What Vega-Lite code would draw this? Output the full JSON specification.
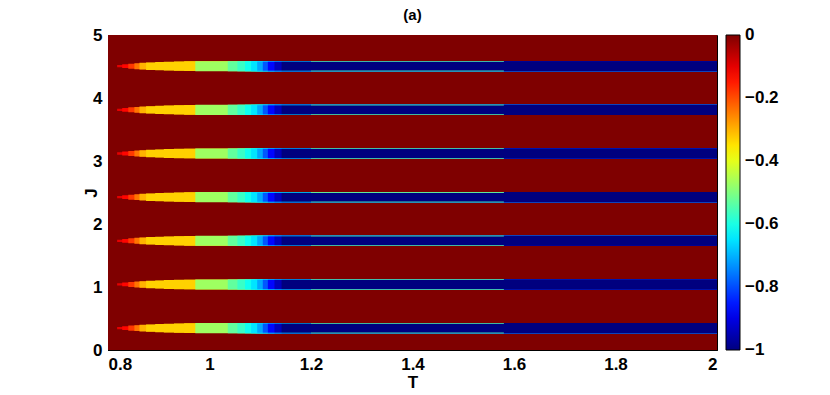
{
  "$schema": "https://vega.github.io/schema/vega-lite/v6.json",
  "autosize": {"type": "none"},
  "padding": {"left": 108, "top": 35, "right": 113, "bottom": 45},
  "width": 609,
  "height": 315,
  "background": "white",
  "title": {"text": "(a)", "fontSize": 15, "fontWeight": "bold", "font": "Liberation Sans", "offset": 14, "dy": 11, "frame": "group", "color": "black"},
  "config": {
    "view": {"stroke": "black", "strokeWidth": 1},
    "axis": {"labelFont": "Liberation Sans", "labelFontWeight": "bold", "labelFontSize": 17, "labelColor": "black", "titleFont": "Liberation Sans", "titleFontWeight": "bold", "titleFontSize": 17, "titleColor": "black", "domainColor": "black", "tickColor": "black", "grid": false, "zindex": 1},
    "legend": {"labelFont": "Liberation Sans", "labelFontWeight": "bold", "labelFontSize": 17, "labelColor": "black"}
  },
  "data": {"values": [
    {"t0": 0.8, "t1": 2.0, "j0": 0, "j1": 5, "v": 0},

    {"t0": 0.818, "t1": 2.0, "j0": 0.329, "j1": 0.365, "v": -0.10},
    {"t0": 0.828, "t1": 2.0, "j0": 0.317, "j1": 0.377, "v": -0.13},
    {"t0": 0.840, "t1": 2.0, "j0": 0.307, "j1": 0.387, "v": -0.18},
    {"t0": 0.852, "t1": 2.0, "j0": 0.300, "j1": 0.394, "v": -0.24},
    {"t0": 0.862, "t1": 2.0, "j0": 0.294, "j1": 0.400, "v": -0.30},
    {"t0": 0.875, "t1": 2.0, "j0": 0.288, "j1": 0.406, "v": -0.33},
    {"t0": 0.893, "t1": 2.0, "j0": 0.282, "j1": 0.412, "v": -0.33},
    {"t0": 0.910, "t1": 2.0, "j0": 0.277, "j1": 0.417, "v": -0.33},
    {"t0": 0.930, "t1": 2.0, "j0": 0.273, "j1": 0.421, "v": -0.33},
    {"t0": 0.950, "t1": 2.0, "j0": 0.270, "j1": 0.424, "v": -0.33},
    {"t0": 0.972, "t1": 2.0, "j0": 0.267, "j1": 0.427, "v": -0.47},
    {"t0": 1.036, "t1": 2.0, "j0": 0.267, "j1": 0.427, "v": -0.53},
    {"t0": 1.055, "t1": 2.0, "j0": 0.267, "j1": 0.427, "v": -0.57},
    {"t0": 1.070, "t1": 2.0, "j0": 0.267, "j1": 0.427, "v": -0.61},
    {"t0": 1.082, "t1": 2.0, "j0": 0.267, "j1": 0.427, "v": -0.65},
    {"t0": 1.094, "t1": 2.0, "j0": 0.267, "j1": 0.427, "v": -0.71},
    {"t0": 1.105, "t1": 2.0, "j0": 0.267, "j1": 0.427, "v": -0.79},
    {"t0": 1.115, "t1": 2.0, "j0": 0.267, "j1": 0.427, "v": -0.87},
    {"t0": 1.128, "t1": 2.0, "j0": 0.267, "j1": 0.427, "v": -0.94},
    {"t0": 1.142, "t1": 2.0, "j0": 0.267, "j1": 0.427, "v": -1.0},
    {"t0": 1.090, "t1": 1.580, "j0": 0.419, "j1": 0.427, "v": -0.65},
    {"t0": 1.200, "t1": 1.580, "j0": 0.419, "j1": 0.427, "v": -0.5},
    {"t0": 1.090, "t1": 1.580, "j0": 0.267, "j1": 0.275, "v": -0.65},
    {"t0": 1.200, "t1": 1.580, "j0": 0.267, "j1": 0.275, "v": -0.5},

    {"t0": 0.818, "t1": 2.0, "j0": 1.022, "j1": 1.058, "v": -0.10},
    {"t0": 0.828, "t1": 2.0, "j0": 1.010, "j1": 1.070, "v": -0.13},
    {"t0": 0.840, "t1": 2.0, "j0": 1.000, "j1": 1.080, "v": -0.18},
    {"t0": 0.852, "t1": 2.0, "j0": 0.993, "j1": 1.087, "v": -0.24},
    {"t0": 0.862, "t1": 2.0, "j0": 0.987, "j1": 1.093, "v": -0.30},
    {"t0": 0.875, "t1": 2.0, "j0": 0.981, "j1": 1.099, "v": -0.33},
    {"t0": 0.893, "t1": 2.0, "j0": 0.975, "j1": 1.105, "v": -0.33},
    {"t0": 0.910, "t1": 2.0, "j0": 0.970, "j1": 1.110, "v": -0.33},
    {"t0": 0.930, "t1": 2.0, "j0": 0.966, "j1": 1.114, "v": -0.33},
    {"t0": 0.950, "t1": 2.0, "j0": 0.963, "j1": 1.117, "v": -0.33},
    {"t0": 0.972, "t1": 2.0, "j0": 0.960, "j1": 1.120, "v": -0.47},
    {"t0": 1.036, "t1": 2.0, "j0": 0.960, "j1": 1.120, "v": -0.53},
    {"t0": 1.055, "t1": 2.0, "j0": 0.960, "j1": 1.120, "v": -0.57},
    {"t0": 1.070, "t1": 2.0, "j0": 0.960, "j1": 1.120, "v": -0.61},
    {"t0": 1.082, "t1": 2.0, "j0": 0.960, "j1": 1.120, "v": -0.65},
    {"t0": 1.094, "t1": 2.0, "j0": 0.960, "j1": 1.120, "v": -0.71},
    {"t0": 1.105, "t1": 2.0, "j0": 0.960, "j1": 1.120, "v": -0.79},
    {"t0": 1.115, "t1": 2.0, "j0": 0.960, "j1": 1.120, "v": -0.87},
    {"t0": 1.128, "t1": 2.0, "j0": 0.960, "j1": 1.120, "v": -0.94},
    {"t0": 1.142, "t1": 2.0, "j0": 0.960, "j1": 1.120, "v": -1.0},
    {"t0": 1.090, "t1": 1.580, "j0": 1.112, "j1": 1.120, "v": -0.65},
    {"t0": 1.200, "t1": 1.580, "j0": 1.112, "j1": 1.120, "v": -0.5},
    {"t0": 1.090, "t1": 1.580, "j0": 0.960, "j1": 0.968, "v": -0.65},
    {"t0": 1.200, "t1": 1.580, "j0": 0.960, "j1": 0.968, "v": -0.5},

    {"t0": 0.818, "t1": 2.0, "j0": 1.715, "j1": 1.751, "v": -0.10},
    {"t0": 0.828, "t1": 2.0, "j0": 1.703, "j1": 1.763, "v": -0.13},
    {"t0": 0.840, "t1": 2.0, "j0": 1.693, "j1": 1.773, "v": -0.18},
    {"t0": 0.852, "t1": 2.0, "j0": 1.686, "j1": 1.780, "v": -0.24},
    {"t0": 0.862, "t1": 2.0, "j0": 1.680, "j1": 1.786, "v": -0.30},
    {"t0": 0.875, "t1": 2.0, "j0": 1.674, "j1": 1.792, "v": -0.33},
    {"t0": 0.893, "t1": 2.0, "j0": 1.668, "j1": 1.798, "v": -0.33},
    {"t0": 0.910, "t1": 2.0, "j0": 1.663, "j1": 1.803, "v": -0.33},
    {"t0": 0.930, "t1": 2.0, "j0": 1.659, "j1": 1.807, "v": -0.33},
    {"t0": 0.950, "t1": 2.0, "j0": 1.656, "j1": 1.810, "v": -0.33},
    {"t0": 0.972, "t1": 2.0, "j0": 1.653, "j1": 1.813, "v": -0.47},
    {"t0": 1.036, "t1": 2.0, "j0": 1.653, "j1": 1.813, "v": -0.53},
    {"t0": 1.055, "t1": 2.0, "j0": 1.653, "j1": 1.813, "v": -0.57},
    {"t0": 1.070, "t1": 2.0, "j0": 1.653, "j1": 1.813, "v": -0.61},
    {"t0": 1.082, "t1": 2.0, "j0": 1.653, "j1": 1.813, "v": -0.65},
    {"t0": 1.094, "t1": 2.0, "j0": 1.653, "j1": 1.813, "v": -0.71},
    {"t0": 1.105, "t1": 2.0, "j0": 1.653, "j1": 1.813, "v": -0.79},
    {"t0": 1.115, "t1": 2.0, "j0": 1.653, "j1": 1.813, "v": -0.87},
    {"t0": 1.128, "t1": 2.0, "j0": 1.653, "j1": 1.813, "v": -0.94},
    {"t0": 1.142, "t1": 2.0, "j0": 1.653, "j1": 1.813, "v": -1.0},
    {"t0": 1.090, "t1": 1.580, "j0": 1.805, "j1": 1.813, "v": -0.65},
    {"t0": 1.200, "t1": 1.580, "j0": 1.805, "j1": 1.813, "v": -0.5},
    {"t0": 1.090, "t1": 1.580, "j0": 1.653, "j1": 1.661, "v": -0.65},
    {"t0": 1.200, "t1": 1.580, "j0": 1.653, "j1": 1.661, "v": -0.5},

    {"t0": 0.818, "t1": 2.0, "j0": 2.408, "j1": 2.444, "v": -0.10},
    {"t0": 0.828, "t1": 2.0, "j0": 2.396, "j1": 2.456, "v": -0.13},
    {"t0": 0.840, "t1": 2.0, "j0": 2.386, "j1": 2.466, "v": -0.18},
    {"t0": 0.852, "t1": 2.0, "j0": 2.379, "j1": 2.473, "v": -0.24},
    {"t0": 0.862, "t1": 2.0, "j0": 2.373, "j1": 2.479, "v": -0.30},
    {"t0": 0.875, "t1": 2.0, "j0": 2.367, "j1": 2.485, "v": -0.33},
    {"t0": 0.893, "t1": 2.0, "j0": 2.361, "j1": 2.491, "v": -0.33},
    {"t0": 0.910, "t1": 2.0, "j0": 2.356, "j1": 2.496, "v": -0.33},
    {"t0": 0.930, "t1": 2.0, "j0": 2.352, "j1": 2.500, "v": -0.33},
    {"t0": 0.950, "t1": 2.0, "j0": 2.349, "j1": 2.503, "v": -0.33},
    {"t0": 0.972, "t1": 2.0, "j0": 2.346, "j1": 2.506, "v": -0.47},
    {"t0": 1.036, "t1": 2.0, "j0": 2.346, "j1": 2.506, "v": -0.53},
    {"t0": 1.055, "t1": 2.0, "j0": 2.346, "j1": 2.506, "v": -0.57},
    {"t0": 1.070, "t1": 2.0, "j0": 2.346, "j1": 2.506, "v": -0.61},
    {"t0": 1.082, "t1": 2.0, "j0": 2.346, "j1": 2.506, "v": -0.65},
    {"t0": 1.094, "t1": 2.0, "j0": 2.346, "j1": 2.506, "v": -0.71},
    {"t0": 1.105, "t1": 2.0, "j0": 2.346, "j1": 2.506, "v": -0.79},
    {"t0": 1.115, "t1": 2.0, "j0": 2.346, "j1": 2.506, "v": -0.87},
    {"t0": 1.128, "t1": 2.0, "j0": 2.346, "j1": 2.506, "v": -0.94},
    {"t0": 1.142, "t1": 2.0, "j0": 2.346, "j1": 2.506, "v": -1.0},
    {"t0": 1.090, "t1": 1.580, "j0": 2.498, "j1": 2.506, "v": -0.65},
    {"t0": 1.200, "t1": 1.580, "j0": 2.498, "j1": 2.506, "v": -0.5},
    {"t0": 1.090, "t1": 1.580, "j0": 2.346, "j1": 2.354, "v": -0.65},
    {"t0": 1.200, "t1": 1.580, "j0": 2.346, "j1": 2.354, "v": -0.5},

    {"t0": 0.818, "t1": 2.0, "j0": 3.101, "j1": 3.137, "v": -0.10},
    {"t0": 0.828, "t1": 2.0, "j0": 3.089, "j1": 3.149, "v": -0.13},
    {"t0": 0.840, "t1": 2.0, "j0": 3.079, "j1": 3.159, "v": -0.18},
    {"t0": 0.852, "t1": 2.0, "j0": 3.072, "j1": 3.166, "v": -0.24},
    {"t0": 0.862, "t1": 2.0, "j0": 3.066, "j1": 3.172, "v": -0.30},
    {"t0": 0.875, "t1": 2.0, "j0": 3.060, "j1": 3.178, "v": -0.33},
    {"t0": 0.893, "t1": 2.0, "j0": 3.054, "j1": 3.184, "v": -0.33},
    {"t0": 0.910, "t1": 2.0, "j0": 3.049, "j1": 3.189, "v": -0.33},
    {"t0": 0.930, "t1": 2.0, "j0": 3.045, "j1": 3.193, "v": -0.33},
    {"t0": 0.950, "t1": 2.0, "j0": 3.042, "j1": 3.196, "v": -0.33},
    {"t0": 0.972, "t1": 2.0, "j0": 3.039, "j1": 3.199, "v": -0.47},
    {"t0": 1.036, "t1": 2.0, "j0": 3.039, "j1": 3.199, "v": -0.53},
    {"t0": 1.055, "t1": 2.0, "j0": 3.039, "j1": 3.199, "v": -0.57},
    {"t0": 1.070, "t1": 2.0, "j0": 3.039, "j1": 3.199, "v": -0.61},
    {"t0": 1.082, "t1": 2.0, "j0": 3.039, "j1": 3.199, "v": -0.65},
    {"t0": 1.094, "t1": 2.0, "j0": 3.039, "j1": 3.199, "v": -0.71},
    {"t0": 1.105, "t1": 2.0, "j0": 3.039, "j1": 3.199, "v": -0.79},
    {"t0": 1.115, "t1": 2.0, "j0": 3.039, "j1": 3.199, "v": -0.87},
    {"t0": 1.128, "t1": 2.0, "j0": 3.039, "j1": 3.199, "v": -0.94},
    {"t0": 1.142, "t1": 2.0, "j0": 3.039, "j1": 3.199, "v": -1.0},
    {"t0": 1.090, "t1": 1.580, "j0": 3.191, "j1": 3.199, "v": -0.65},
    {"t0": 1.200, "t1": 1.580, "j0": 3.191, "j1": 3.199, "v": -0.5},
    {"t0": 1.090, "t1": 1.580, "j0": 3.039, "j1": 3.047, "v": -0.65},
    {"t0": 1.200, "t1": 1.580, "j0": 3.039, "j1": 3.047, "v": -0.5},

    {"t0": 0.818, "t1": 2.0, "j0": 3.794, "j1": 3.830, "v": -0.10},
    {"t0": 0.828, "t1": 2.0, "j0": 3.782, "j1": 3.842, "v": -0.13},
    {"t0": 0.840, "t1": 2.0, "j0": 3.772, "j1": 3.852, "v": -0.18},
    {"t0": 0.852, "t1": 2.0, "j0": 3.765, "j1": 3.859, "v": -0.24},
    {"t0": 0.862, "t1": 2.0, "j0": 3.759, "j1": 3.865, "v": -0.30},
    {"t0": 0.875, "t1": 2.0, "j0": 3.753, "j1": 3.871, "v": -0.33},
    {"t0": 0.893, "t1": 2.0, "j0": 3.747, "j1": 3.877, "v": -0.33},
    {"t0": 0.910, "t1": 2.0, "j0": 3.742, "j1": 3.882, "v": -0.33},
    {"t0": 0.930, "t1": 2.0, "j0": 3.738, "j1": 3.886, "v": -0.33},
    {"t0": 0.950, "t1": 2.0, "j0": 3.735, "j1": 3.889, "v": -0.33},
    {"t0": 0.972, "t1": 2.0, "j0": 3.732, "j1": 3.892, "v": -0.47},
    {"t0": 1.036, "t1": 2.0, "j0": 3.732, "j1": 3.892, "v": -0.53},
    {"t0": 1.055, "t1": 2.0, "j0": 3.732, "j1": 3.892, "v": -0.57},
    {"t0": 1.070, "t1": 2.0, "j0": 3.732, "j1": 3.892, "v": -0.61},
    {"t0": 1.082, "t1": 2.0, "j0": 3.732, "j1": 3.892, "v": -0.65},
    {"t0": 1.094, "t1": 2.0, "j0": 3.732, "j1": 3.892, "v": -0.71},
    {"t0": 1.105, "t1": 2.0, "j0": 3.732, "j1": 3.892, "v": -0.79},
    {"t0": 1.115, "t1": 2.0, "j0": 3.732, "j1": 3.892, "v": -0.87},
    {"t0": 1.128, "t1": 2.0, "j0": 3.732, "j1": 3.892, "v": -0.94},
    {"t0": 1.142, "t1": 2.0, "j0": 3.732, "j1": 3.892, "v": -1.0},
    {"t0": 1.090, "t1": 1.580, "j0": 3.884, "j1": 3.892, "v": -0.65},
    {"t0": 1.200, "t1": 1.580, "j0": 3.884, "j1": 3.892, "v": -0.5},
    {"t0": 1.090, "t1": 1.580, "j0": 3.732, "j1": 3.740, "v": -0.65},
    {"t0": 1.200, "t1": 1.580, "j0": 3.732, "j1": 3.740, "v": -0.5},

    {"t0": 0.818, "t1": 2.0, "j0": 4.487, "j1": 4.523, "v": -0.10},
    {"t0": 0.828, "t1": 2.0, "j0": 4.475, "j1": 4.535, "v": -0.13},
    {"t0": 0.840, "t1": 2.0, "j0": 4.465, "j1": 4.545, "v": -0.18},
    {"t0": 0.852, "t1": 2.0, "j0": 4.458, "j1": 4.552, "v": -0.24},
    {"t0": 0.862, "t1": 2.0, "j0": 4.452, "j1": 4.558, "v": -0.30},
    {"t0": 0.875, "t1": 2.0, "j0": 4.446, "j1": 4.564, "v": -0.33},
    {"t0": 0.893, "t1": 2.0, "j0": 4.440, "j1": 4.570, "v": -0.33},
    {"t0": 0.910, "t1": 2.0, "j0": 4.435, "j1": 4.575, "v": -0.33},
    {"t0": 0.930, "t1": 2.0, "j0": 4.431, "j1": 4.579, "v": -0.33},
    {"t0": 0.950, "t1": 2.0, "j0": 4.428, "j1": 4.582, "v": -0.33},
    {"t0": 0.972, "t1": 2.0, "j0": 4.425, "j1": 4.585, "v": -0.47},
    {"t0": 1.036, "t1": 2.0, "j0": 4.425, "j1": 4.585, "v": -0.53},
    {"t0": 1.055, "t1": 2.0, "j0": 4.425, "j1": 4.585, "v": -0.57},
    {"t0": 1.070, "t1": 2.0, "j0": 4.425, "j1": 4.585, "v": -0.61},
    {"t0": 1.082, "t1": 2.0, "j0": 4.425, "j1": 4.585, "v": -0.65},
    {"t0": 1.094, "t1": 2.0, "j0": 4.425, "j1": 4.585, "v": -0.71},
    {"t0": 1.105, "t1": 2.0, "j0": 4.425, "j1": 4.585, "v": -0.79},
    {"t0": 1.115, "t1": 2.0, "j0": 4.425, "j1": 4.585, "v": -0.87},
    {"t0": 1.128, "t1": 2.0, "j0": 4.425, "j1": 4.585, "v": -0.94},
    {"t0": 1.142, "t1": 2.0, "j0": 4.425, "j1": 4.585, "v": -1.0},
    {"t0": 1.090, "t1": 1.580, "j0": 4.577, "j1": 4.585, "v": -0.65},
    {"t0": 1.200, "t1": 1.580, "j0": 4.577, "j1": 4.585, "v": -0.5},
    {"t0": 1.090, "t1": 1.580, "j0": 4.425, "j1": 4.433, "v": -0.65},
    {"t0": 1.200, "t1": 1.580, "j0": 4.425, "j1": 4.433, "v": -0.5}
  ]},
  "mark": {"type": "rect", "clip": true},
  "encoding": {
    "x": {"field": "t0", "type": "quantitative", "scale": {"domain": [0.8, 2], "nice": false, "zero": false},
          "axis": {"title": "T", "values": [0.8, 1, 1.2, 1.4, 1.6, 1.8, 2], "format": "~g", "tickSize": -5, "labelPadding": 11, "titlePadding": 2}},
    "x2": {"field": "t1"},
    "y": {"field": "j0", "type": "quantitative", "scale": {"domain": [0, 5], "nice": false, "zero": false},
          "axis": {"title": "J", "values": [0, 1, 2, 3, 4, 5], "format": "~g", "tickSize": -5, "labelPadding": 11, "titlePadding": -8}},
    "y2": {"field": "j1"},
    "color": {"field": "v", "type": "quantitative",
              "scale": {"domain": [-1, -0.875, -0.625, -0.375, -0.125, 0], "range": ["#00007f", "#0000ff", "#00ffff", "#ffff00", "#ff0000", "#7f0000"], "interpolate": "rgb"},
              "legend": {"type": "gradient", "title": null, "orient": "right", "offset": 9, "padding": 0, "direction": "vertical", "gradientLength": 315, "gradientThickness": 14, "gradientStrokeColor": "black", "gradientStrokeWidth": 1, "values": [0, -0.2, -0.4, -0.6, -0.8, -1], "format": "~g", "labelOffset": 5,
                         "encode": {"labels": {"update": {"baseline": {"value": "middle"}}}}}}
  }
}
